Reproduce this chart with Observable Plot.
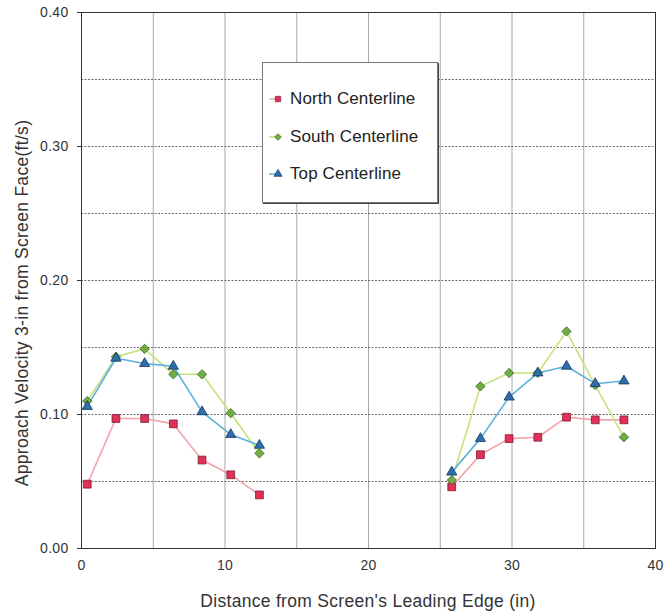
<!DOCTYPE html>
<html>
<head>
<meta charset="utf-8">
<script src="https://cdn.jsdelivr.net/npm/d3@7"></script>
<script src="https://cdn.jsdelivr.net/npm/@observablehq/plot@0.6"></script>
<style>
  html, body { margin: 0; padding: 0; background: #fff; }
  #wrap { position: relative; width: 664px; height: 613px; font-family: "Liberation Sans", Arial, sans-serif; }
  #legend { position: absolute; left: 262px; top: 62px; width: 174px; height: 139px; background: #fff;
    border: 1px solid #777; box-shadow: 1px 1px 0 #444; }
  .item { position: absolute; left: 0; height: 20px; display: flex; align-items: center; font-size: 17px; color: #222; letter-spacing: 0.1px; }
  .item svg { margin-right: 3px; }
  svg text { letter-spacing: 0.3px; }
</style>
</head>
<body>
<div id="wrap"></div>
<script>
// ---- data ----
const distance = [0.4, 2.4, 4.4, 6.4, 8.4, 10.4, 12.4, 25.8, 27.8, 29.8, 31.8, 33.8, 35.8, 37.8];
const segment  = ["a","a","a","a","a","a","a","b","b","b","b","b","b","b"];
const north = [0.048, 0.097, 0.097, 0.093, 0.066, 0.055, 0.040, 0.046, 0.070, 0.082, 0.083, 0.098, 0.096, 0.096];
const south = [0.110, 0.143, 0.149, 0.130, 0.130, 0.101, 0.071, 0.051, 0.121, 0.131, 0.131, 0.162, 0.122, 0.083];
const topC  = [0.106, 0.142, 0.138, 0.136, 0.102, 0.085, 0.077, 0.057, 0.082, 0.113, 0.131, 0.136, 0.123, 0.125];
const seriesNames = ["North Centerline", "South Centerline", "Top Centerline"];
const xTicks = [0, 10, 20, 30, 40];
const yTicks = [0, 0.1, 0.2, 0.3, 0.4];
const xGrid = [5, 10, 15, 20, 25, 30, 35];
const yGrid = [0.05, 0.10, 0.15, 0.20, 0.25, 0.30, 0.35];

const styles = [
  {line: "#f3a3aa", fill: "#e3305a", stroke: "#7a1f30", symbol: "square", r: 4.4},
  {line: "#c6e27e", fill: "#6fae45", stroke: "#3d6422", symbol: "diamond2", r: 4.2},
  {line: "#5cb1dc", fill: "#2f6ea8", stroke: "#17385e", symbol: "triangle", r: 3.8}
];
const values = [north, south, topC];

const marks = [
  Plot.ruleX(xGrid, {stroke: "#a8a8a8", strokeWidth: 1}),
  Plot.ruleY(yGrid, {stroke: "#6a6a6a", strokeWidth: 1, strokeDasharray: "2,1.5"}),
  Plot.frame({stroke: "#333"}),
  Plot.axisX({ticks: xTicks, tickSize: 0, tickPadding: 12, label: null, fontSize: 14}),
  Plot.axisY({ticks: yTicks, tickFormat: ".2f", tickSize: 4, tickPadding: 9, label: null, fontSize: 14})
];
values.forEach((vals, i) => {
  const rows = distance.map((d, j) => ({x: d, y: vals[j], seg: segment[j]}));
  marks.push(Plot.line(rows, {x: "x", y: "y", z: "seg", stroke: styles[i].line, strokeWidth: 1.6}));
});
values.forEach((vals, i) => {
  const rows = distance.map((d, j) => ({x: d, y: vals[j]}));
  marks.push(Plot.dot(rows, {x: "x", y: "y", symbol: () => styles[i].symbol, r: styles[i].r,
    fill: styles[i].fill, stroke: styles[i].stroke, strokeWidth: 0.8}));
});

const chart = Plot.plot({
  width: 664, height: 613,
  marginLeft: 81, marginRight: 9, marginTop: 12, marginBottom: 65,
  x: {domain: [0, 40]},
  y: {domain: [0, 0.4]},
  symbol: {type: "identity"},
  style: {fontFamily: "'Liberation Sans', Arial, sans-serif", color: "#333", background: "#fff"},
  marks
});

const svg = d3.select(chart);
svg.append("text")
  .attr("x", 368).attr("y", 607)
  .attr("text-anchor", "middle")
  .attr("font-size", 17.5).attr("fill", "#333")
  .text("Distance from Screen's Leading Edge (in)");
svg.append("text")
  .attr("transform", "translate(28,303) rotate(-90)")
  .attr("text-anchor", "middle")
  .attr("font-size", 17.5).attr("fill", "#333")
  .text("Approach Velocity 3-in from Screen Face(ft/s)");

const wrap = document.getElementById("wrap");
wrap.appendChild(chart);

// legend
const legend = document.createElement("div");
legend.id = "legend";
const tops = [26, 64, 101];
seriesNames.forEach((name, i) => {
  const it = document.createElement("div");
  it.className = "item";
  it.style.top = tops[i] + "px";
  it.style.left = "4px";
  const s = d3.create("svg").attr("width", 20).attr("height", 20);
  s.append("line").attr("x1", 2).attr("x2", 10).attr("y1", 10).attr("y2", 10)
    .attr("stroke", styles[i].line).attr("stroke-width", 1.5);
  const sym = {square: d3.symbolSquare, diamond2: d3.symbolDiamond2, triangle: d3.symbolTriangle}[styles[i].symbol];
  s.append("path").attr("transform", "translate(11,10)")
    .attr("d", d3.symbol(sym, Math.PI * 3 * 3)())
    .attr("fill", styles[i].fill).attr("stroke", styles[i].stroke).attr("stroke-width", 0.7);
  it.appendChild(s.node());
  const t = document.createElement("span");
  t.textContent = name;
  it.appendChild(t);
  legend.appendChild(it);
});
wrap.appendChild(legend);
</script>
</body>
</html>
